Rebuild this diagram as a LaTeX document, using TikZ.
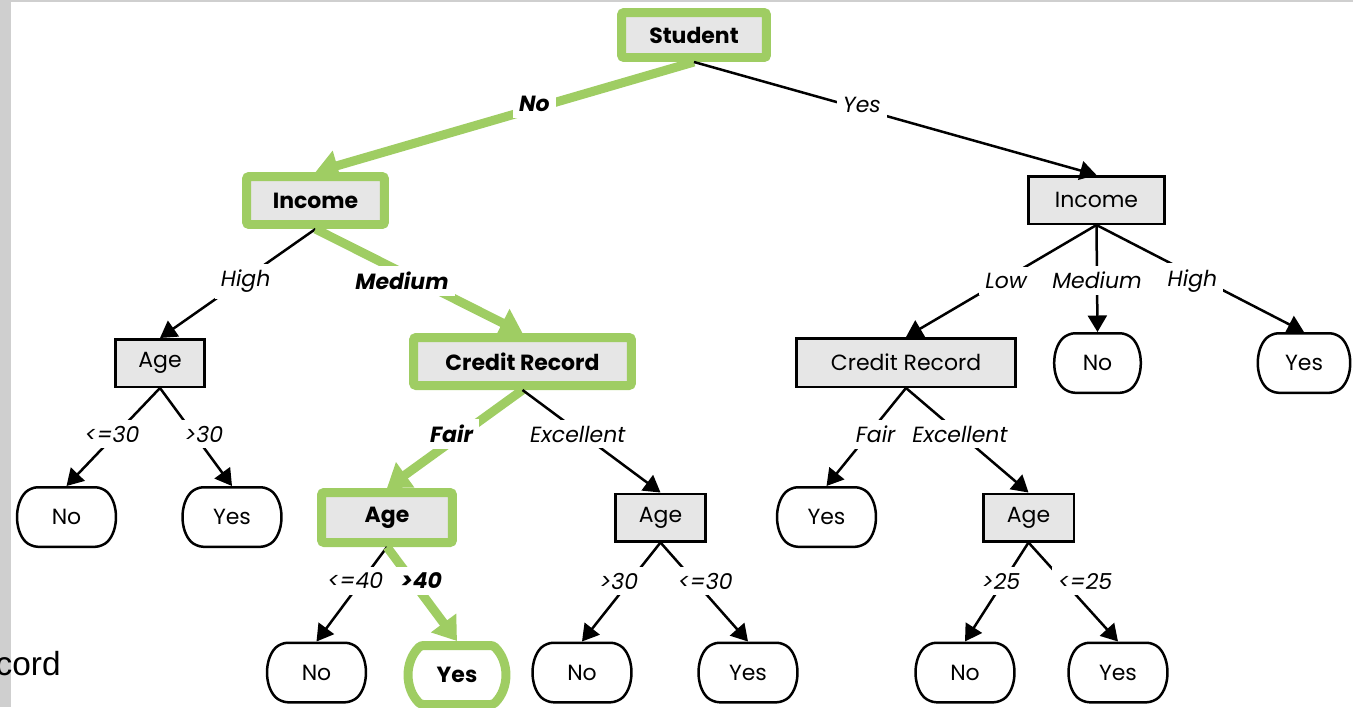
\documentclass[tikz,border=0pt]{standalone}
\usepackage{fontspec}
\setmainfont{Poppins}
\newfontfamily\slidefont{Liberation Sans}
\usepackage{tikz}
\usetikzlibrary{
	arrows.meta,									% 提供各种箭头样式
	shapes.misc,									% 圆角矩形叶节点
}
\definecolor{pickgreen}{HTML}{9FCD63}
\definecolor{boxgrey}{HTML}{E6E6E6}
\definecolor{edgegrey}{HTML}{CFCFCF}

\begin{document}
\begin{tikzpicture}[x=0.02cm, y=-0.02cm,
		font=\fontsize{12.5}{15}\selectfont,
		attr/.style={draw, line width=0.05cm, fill=boxgrey, minimum height=0.95cm, inner sep=0pt},
		leaf/.style={draw, line width=0.05cm, fill=white, rounded rectangle, rounded rectangle arc length=90,
			rounded corners=4pt, minimum width=1.93cm, minimum height=1.19cm, inner sep=0pt},
		hot/.style={draw=pickgreen, line width=0.18cm, rounded corners=1.5pt, font=\fontsize{12.5}{15}\selectfont\bfseries},
		link/.style={line width=0.05cm, -{Triangle[length=0.33cm, width=0.38cm]}},
		hotlink/.style={draw=pickgreen, line width=0.18cm, -{Triangle[length=0.45cm, width=0.6cm]}},
		lbl/.style={fill=white, inner sep=0.12cm, text=black, font=\fontsize{12.5}{15}\selectfont\itshape},
		hotlbl/.style={lbl, font=\fontsize{12.5}{15}\selectfont\bfseries\itshape},
	]
	\useasboundingbox (0,0) rectangle (1353,707);
	% slide border
	\fill[edgegrey] (0,0) rectangle (11,707);
	\fill[edgegrey] (0,0) rectangle (1353,2);
	\node[anchor=base east, inner sep=0pt, font=\fontsize{19}{20}\slidefont] (cord) at (61,675) {cord};

	% level 1--2
	\node[attr, hot, minimum width=2.9cm, minimum height=0.9cm] (student) at (694,35) {Student};
	\node[attr, hot, minimum width=2.76cm, minimum height=0.96cm] (incL) at (315.5,200.5) {Income};
	\node[attr, minimum width=2.72cm] (incR) at (1096.5,200) {Income};

	% level 3
	\node[attr, minimum width=1.79cm] (ageL) at (160,363) {Age};
	\node[attr, hot, minimum width=4.36cm, minimum height=0.96cm] (crL) at (522.5,361.5) {Credit Record};
	\node[attr, minimum width=4.39cm, minimum height=0.97cm] (crR) at (906,362.5) {Credit Record};
	\node[leaf, minimum width=1.66cm] (noR) at (1097.5,363) {No};
	\node[leaf, minimum width=1.8cm] (yesR) at (1304,363) {Yes};

	% level 4
	\node[leaf] (noA) at (66.5,517) {No};
	\node[leaf] (yesA) at (232,517) {Yes};
	\node[attr, hot, minimum width=2.62cm, minimum height=1cm] (ageG) at (387,517.5) {Age};
	\node[attr, minimum width=1.81cm] (ageM) at (660.5,517.5) {Age};
	\node[leaf] (yesB) at (826.5,517) {Yes};
	\node[attr, minimum width=1.81cm] (ageR) at (1028.5,517.5) {Age};

	% level 5
	\node[leaf] (noC) at (316.5,672.5) {No};
	\node[leaf, hot, minimum width=1.94cm, minimum height=1.18cm] (yesG) at (457,675) {Yes};
	\node[leaf] (noD) at (582,672.5) {No};
	\node[leaf] (yesD) at (748,672.5) {Yes};
	\node[leaf] (noE) at (965,672.5) {No};
	\node[leaf] (yesE) at (1118,672.5) {Yes};

	% branches
	\draw[hotlink] (student.south) -- node[hotlbl, pos=0.38, xshift=-9pt] {No} (incL.north);
	\draw[link] (student.south) -- node[lbl, pos=0.38, xshift=8.5pt] {Yes} (incR.north);

	\draw[link] (incL.south) -- node[lbl, pos=0.48, xshift=2.7pt] {High} (ageL.north);
	\draw[hotlink] (incL.south) -- node[hotlbl, pos=0.5, xshift=-9.7pt] {Medium} (crL.north);
	\draw[link] (incR.south) -- node[lbl, pos=0.5, xshift=2.8pt] {Low} (crR.north);
	\draw[link] (incR.south) -- node[lbl, pos=0.52] {Medium} (noR.north);
	\draw[link] (incR.south) -- node[lbl, pos=0.52, xshift=-6.8pt] {High} (yesR.north);

	\draw[link] (ageL.south) -- node[lbl, pos=0.47, xshift=-2.3pt] {<=30} (noA.north);
	\draw[link] (ageL.south) -- node[lbl, pos=0.47, xshift=5.7pt] {>30} (yesA.north);
	\draw[hotlink] (crL.south) -- node[hotlbl, pos=0.45, xshift=-5.7pt] {Fair} (ageG.north);
	\draw[link] (crL.south) -- node[lbl, pos=0.43, xshift=-2.3pt] {Excellent} (ageM.north);
	\draw[link] (crR.south) -- node[lbl, pos=0.47, xshift=4pt] {Fair} (yesB.north);
	\draw[link] (crR.south) -- node[lbl, pos=0.44] {Excellent} (ageR.north);

	\draw[link] (ageG.south) -- node[lbl, pos=0.36, xshift=-3.6pt] {<=40} (noC.north);
	\draw[hotlink] (ageG.south) -- node[hotlbl, pos=0.36, xshift=5.3pt] {>40} (yesG.north);
	\draw[link] (ageM.south) -- node[lbl, pos=0.39, xshift=-6.3pt] {>30} (noD.north);
	\draw[link] (ageM.south) -- node[lbl, pos=0.39, xshift=6pt] {<=30} (yesD.north);
	\draw[link] (ageR.south) -- node[lbl, pos=0.39, xshift=-1.5pt] {>25} (noE.north);
	\draw[link] (ageR.south) -- node[lbl, pos=0.39, xshift=12.3pt] {<=25} (yesE.north);
\end{tikzpicture}
\end{document}
